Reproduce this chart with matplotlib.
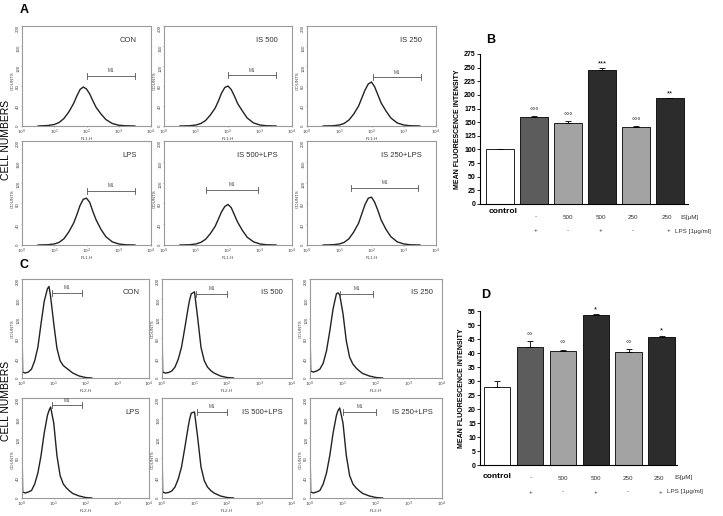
import matplotlib
matplotlib.use("Agg")
import matplotlib.pyplot as plt
import numpy as np

plt.rcParams['font.family'] = ['Liberation Sans', 'DejaVu Sans']

W, H = 723, 516

# ---------------- Histogram data (log10 of fluorescence, counts) -------------
A_titles = ["CON", "IS 500", "IS 250", "LPS", "IS 500+LPS", "IS 250+LPS"]
A_logx = [0.5, 0.8, 1.0, 1.15, 1.3, 1.45, 1.6, 1.7, 1.8, 1.9, 2.0, 2.1, 2.2,
          2.3, 2.45, 2.6, 2.8, 3.0, 3.2, 3.5]
A_counts = [
    [0, 1, 3, 7, 15, 28, 45, 60, 73, 78, 74, 64, 50, 37, 24, 13, 5, 1.5, 0.5, 0],
    [0, 0.5, 2, 5, 11, 22, 36, 50, 66, 77, 80, 73, 60, 45, 30, 16, 6, 2, 0.5, 0],
    [0, 0.5, 2, 5, 12, 24, 40, 56, 72, 84, 88, 78, 62, 46, 30, 16, 6, 2, 0.5, 0],
    [0, 0.5, 2, 5, 12, 25, 42, 58, 76, 88, 90, 82, 64, 48, 30, 16, 6, 2, 0.5, 0],
    [0, 0.5, 2, 5, 11, 22, 36, 50, 64, 74, 78, 72, 58, 44, 28, 15, 6, 2, 0.5, 0],
    [0, 0.5, 2, 5, 12, 25, 42, 60, 78, 90, 92, 82, 66, 48, 30, 16, 6, 2, 0.5, 0],
]
A_m1 = [(2.0, 3.5, 100), (2.0, 3.5, 102), (2.05, 3.53, 98),
        (2.0, 3.5, 104), (1.32, 2.94, 106), (1.36, 3.44, 110)]

C_titles = ["CON", "IS 500", "IS 250", "LPS", "IS 500+LPS", "IS 250+LPS"]
C_logx = [0.0, 0.02, 0.1, 0.2, 0.3, 0.4, 0.5, 0.6, 0.7, 0.8, 0.85, 0.9, 1.0,
          1.1, 1.2, 1.3, 1.4, 1.5, 1.6, 1.8, 2.0, 2.2]
C_counts = [
    [105, 12, 10, 12, 18, 35, 62, 110, 155, 180, 185, 165, 110, 60, 35, 25, 20, 15, 10, 4, 1, 0],
    [105, 12, 10, 11, 14, 22, 38, 62, 100, 140, 158, 170, 174, 120, 62, 35, 22, 15, 10, 4, 1, 0],
    [105, 14, 12, 14, 18, 30, 55, 95, 140, 170, 172, 168, 130, 75, 42, 28, 20, 14, 9, 4, 1, 0],
    [105, 12, 10, 12, 15, 28, 50, 85, 130, 165, 175, 182, 150, 85, 45, 28, 20, 14, 9, 4, 1, 0],
    [105, 12, 10, 11, 14, 22, 38, 62, 100, 140, 158, 170, 172, 120, 62, 35, 22, 15, 10, 4, 1, 0],
    [105, 12, 10, 12, 15, 28, 50, 85, 130, 165, 175, 180, 150, 85, 45, 28, 20, 14, 9, 4, 1, 0],
]
C_m1 = [(0.93, 1.9, 172), (1.05, 2.0, 170), (0.92, 1.92, 170),
        (0.94, 1.9, 186), (1.08, 2.0, 172), (1.0, 2.0, 172)]

# ---------------- Bar data -----------------
bar_cats = ["control", "-", "500", "500", "250", "250"]
lps_row = ["", "+", "-", "+", "-", "+"]
B_vals = [100, 160, 149, 246, 141, 194]
B_err = [1, 1, 4, 4, 2, 1]
B_sig = ["", "°°°", "°°°", "***", "°°°", "**"]
D_vals = [28, 42.3, 40.8, 53.5, 40.2, 45.7]
D_err = [2, 2, 0.4, 0.5, 1.2, 0.5]
D_sig = ["", "°°", "°°", "*", "°°", "*"]
bar_colors = ["white", "#5c5c5c", "#a3a3a3", "#2c2c2c", "#a3a3a3", "#2c2c2c"]

fig = plt.figure(figsize=(W / 100, H / 100), dpi=100)


def ax_px(l, t, r, b):
    return fig.add_axes([l / W, 1 - b / H, (r - l) / W, (b - t) / H])


def hist_panel(box, logx, counts, title, m1, xlabel, title_x, lab_frac):
    ax = ax_px(*box)
    x = 10 ** np.array(logx)
    ax.plot(x, counts, color="#222222", lw=1.0)
    ax.set_xscale("log")
    ax.set_xlim(1, 1e4)
    ax.set_ylim(0, 200)
    ax.set_yticks([0, 40, 80, 120, 160, 200])
    ax.set_xticks([1, 10, 100, 1000, 10000])
    ax.set_xticklabels([r"$10^0$", r"$10^1$", r"$10^2$", r"$10^3$", r"$10^4$"])
    ax.tick_params(axis="both", labelsize=3.2, length=1.0, width=0.4,
                   colors="#777777", labelcolor="#444444", pad=0.3)
    ax.tick_params(axis="y", labelrotation=90)
    ax.tick_params(axis="x", which="minor", length=0.8, width=0.3, colors="#777777")
    for s in ax.spines.values():
        s.set_color("#9a9a9a")
        s.set_linewidth(0.8)
    ax.set_xlabel(xlabel, fontsize=3.2, labelpad=0, color="#444444")
    ax.set_ylabel("COUNTS", fontsize=3.2, color="#444444", va="center")
    width_px = box[2] - box[0]
    ax.yaxis.set_label_coords(-9.7 / width_px, lab_frac)
    ax.text(title_x, 0.86, title, transform=ax.transAxes, ha="right",
            va="center", fontsize=5.5, color="#333333")
    lo, hi, yy = m1
    ax.plot([10 ** lo, 10 ** hi], [yy, yy], color="#555555", lw=0.6)
    ax.plot([10 ** lo, 10 ** lo], [yy - 6, yy + 6], color="#555555", lw=0.6)
    ax.plot([10 ** hi, 10 ** hi], [yy - 6, yy + 6], color="#555555", lw=0.6)
    ax.text(10 ** ((lo + hi) / 2), yy + 5, "M1", ha="center", va="bottom",
            fontsize=3.3, color="#444444")
    return ax


A_boxes = [(22, 26, 151, 126), (164, 26, 292, 126), (307, 26, 436, 126),
           (22, 141, 151, 245), (164, 141, 292, 245), (307, 141, 436, 245)]
for i in range(6):
    hist_panel(A_boxes[i], A_logx, A_counts[i], A_titles[i], A_m1[i], "FL1-H",
               0.89, 0.45)

C_boxes = [(22, 279, 149, 378), (162, 279, 292, 378), (310, 279, 442, 378),
           (22, 398, 149, 498), (162, 398, 292, 498), (310, 398, 442, 498)]
C_lab = [0.5, 0.5, 0.5, 0.38, 0.38, 0.38]
for i in range(6):
    hist_panel(C_boxes[i], C_logx, C_counts[i], C_titles[i], C_m1[i], "FL2-H",
               0.93, C_lab[i])

fig.text(6 / W, 1 - 140 / H, "CELL NUMBERS", rotation=90, ha="center",
         va="center", fontsize=7.5)
fig.text(6 / W, 1 - 401 / H, "CELL NUMBERS", rotation=90, ha="center",
         va="center", fontsize=7.5)


def bar_panel(box, vals, errs, sigs, ymax, step, xr, sig_off):
    ax = ax_px(*box)
    xs = np.arange(len(vals))
    ax.bar(xs, vals, width=0.8, color=bar_colors, edgecolor="black", lw=0.6, zorder=2)
    ax.errorbar(xs, vals, yerr=[np.zeros(len(errs)), errs], fmt="none",
                ecolor="black", elinewidth=0.6, capsize=2.5, capthick=0.6, zorder=3)
    for x, v, e, s in zip(xs, vals, errs, sigs):
        if s:
            ax.text(x, v + e + sig_off, s, ha="center", va="bottom", fontsize=5.5)
    ax.set_xlim(*xr)
    ax.set_ylim(0, ymax)
    ax.set_yticks(np.arange(0, ymax + 0.1, step))
    ax.set_xticks([])
    for s in ["top", "right"]:
        ax.spines[s].set_visible(False)
    ax.spines["left"].set_linewidth(0.8)
    ax.spines["bottom"].set_linewidth(0.8)
    ax.tick_params(axis="y", labelsize=5, length=2, width=0.6, pad=1)
    for lab in ax.get_yticklabels():
        lab.set_fontweight("bold")
    ax.set_ylabel("MEAN FLUORESCENCE INTENSITY", fontsize=5, fontweight="bold", labelpad=2)
    return ax


axB = bar_panel((480, 54, 688, 204), B_vals, B_err, B_sig, 275, 25, (-0.59, 5.53), 1)
axD = bar_panel((480, 311, 677, 465), D_vals, D_err, D_sig, 55, 5, (-0.52, 5.47), 0.3)


def under_labels(centers, y1, y2, ctrl_y, is_x, lps_x, lps_sym_x):
    fig.text(centers[0] / W, 1 - ctrl_y / H, "control", ha="center", va="center",
             fontsize=6, fontweight="bold")
    for c, lab in zip(centers[1:], bar_cats[1:]):
        fig.text(c / W, 1 - y1 / H, lab, ha="center", va="center", fontsize=4.5,
                 color="#333333")
    fig.text(is_x / W, 1 - y1 / H, "IS[μM]", ha="left", va="center", fontsize=4.5,
             color="#333333")
    for c, lab in zip(centers[1:-1], lps_row[1:-1]):
        fig.text(c / W, 1 - y2 / H, lab, ha="center", va="center", fontsize=4.5,
                 color="#333333")
    fig.text(lps_sym_x / W, 1 - y2 / H, lps_row[-1], ha="center", va="center",
             fontsize=4.5, color="#333333")
    fig.text(lps_x / W, 1 - y2 / H, "LPS [1μg/ml]", ha="left", va="center",
             fontsize=4.5, color="#333333")


under_labels([503, 536, 568, 601, 633, 667], 217, 231, 211, 680, 675, 669)
under_labels([497, 531, 563, 596, 628, 659], 478, 492, 476, 674, 667, 661)

fig.text(20 / W, 1 - 10 / H, "A", fontsize=9, fontweight="bold", va="center")
fig.text(486 / W, 1 - 40 / H, "B", fontsize=9, fontweight="bold", va="center")
fig.text(20 / W, 1 - 265 / H, "C", fontsize=9, fontweight="bold", va="center")
fig.text(481 / W, 1 - 295 / H, "D", fontsize=9, fontweight="bold", va="center")

fig.savefig("out.png", dpi=100)
